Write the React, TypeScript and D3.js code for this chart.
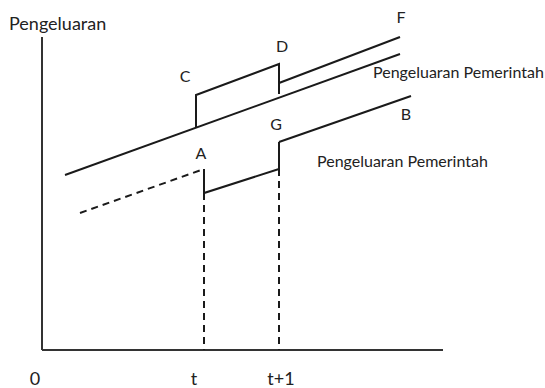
import React from "react";
import * as d3 from "d3";

type P = [number, number];

// Data (abstract units): x = time, y = pengeluaran
const T_VALUE = 40.5;
const T1_VALUE = 59.25;
const xTicks = [
  { label: "0", value: -1.75 },
  { label: "t", value: T_VALUE - 2.5 },
  { label: "t+1", value: T1_VALUE + 0.5 },
];

// Pengeluaran Pemerintah (upper, reference path)
const baseLine: P[] = [
  [5.75, 58.33],
  [89.5, 98.67],
];
// C -> D step
const stepCD: P[] = [
  [38.5, 74.1],
  [38.5, 85],
  [59.25, 95.33],
  [59.25, 85.33],
];
// D -> F
const lineF: P[] = [
  [59.25, 89],
  [89.5, 104.33],
];
// dashed lower path up to A
const dashedA: P[] = [
  [9.5, 45.67],
  [40.5, 60.33],
];
// A -> G segment
const stepAG: P[] = [
  [40.5, 60.33],
  [40.5, 52.33],
  [59.25, 60.33],
  [59.25, 69.33],
];
// G -> B
const lineB: P[] = [
  [59.25, 69.33],
  [92.25, 84.67],
];
// dashed verticals
const dropT: P[] = [
  [T_VALUE, 52.33],
  [T_VALUE, 0],
];
const dropT1: P[] = [
  [T1_VALUE, 60.33],
  [T1_VALUE, 0],
];

const pointLabels = [
  { label: "F", x: 89.75, y: 109 },
  { label: "D", x: 60, y: 99.33 },
  { label: "C", x: 35.75, y: 89.33 },
  { label: "A", x: 39.75, y: 63.67 },
  { label: "G", x: 58.5, y: 73.33 },
  { label: "B", x: 91, y: 76.67 },
];
const seriesLabels = [
  { label: "Pengeluaran Pemerintah", x: 82.75, y: 90.67 },
  { label: "Pengeluaran Pemerintah", x: 68.75, y: 61 },
];
const yTitle = "Pengeluaran";
const Y_MAX = 104.33;
const X_MAX = 100.25;

const W = 545;
const H = 388;

export default function App() {
  const x = d3.scaleLinear().domain([0, 100]).range([42, 442]);
  const y = d3.scaleLinear().domain([0, 100]).range([350, 50]);
  const line = d3
    .line<P>()
    .x((d) => x(d[0]))
    .y((d) => y(d[1]));
  const font = "Lato, 'Open Sans', sans-serif";
  const stroke = "#1a1a1a";
  return (
    <svg
      width={W}
      height={H}
      style={{ position: "absolute", left: 0, top: 0, background: "#fff" }}
    >
      {/* axes */}
      <line x1={x(0)} x2={x(0)} y1={y(Y_MAX)} y2={y(0)} stroke="#333" strokeWidth={2} />
      <line x1={x(0)} x2={x(X_MAX)} y1={y(0)} y2={y(0)} stroke="#333" strokeWidth={2} />

      {/* dashed */}
      {[dashedA].map((d, i) => (
        <path key={"da" + i} d={line(d) || ""} fill="none" stroke={stroke} strokeWidth={2} strokeDasharray="7,5" />
      ))}
      {[dropT, dropT1].map((d, i) => (
        <path key={"dv" + i} d={line(d) || ""} fill="none" stroke={stroke} strokeWidth={2} strokeDasharray="7,5" />
      ))}

      {/* solid */}
      {[baseLine, stepCD, lineF, stepAG, lineB].map((d, i) => (
        <path key={"s" + i} d={line(d) || ""} fill="none" stroke={stroke} strokeWidth={2} strokeLinejoin="miter" />
      ))}

      {/* labels */}
      <text x={9} y={30} fontFamily={font} fontSize={18} fill="#222">
        {yTitle}
      </text>
      {pointLabels.map((l) => (
        <text key={l.label} x={x(l.x)} y={y(l.y)} fontFamily={font} fontSize={16} fill="#222" textAnchor="middle">
          {l.label}
        </text>
      ))}
      {seriesLabels.map((l, i) => (
        <text key={"sl" + i} x={x(l.x)} y={y(l.y)} fontFamily={font} fontSize={16} fill="#222">
          {l.label}
        </text>
      ))}
      {xTicks.map((t) => (
        <text key={t.label} x={x(t.value)} y={385} fontFamily={font} fontSize={18} fill="#222" textAnchor="middle">
          {t.label}
        </text>
      ))}
    </svg>
  );
}
